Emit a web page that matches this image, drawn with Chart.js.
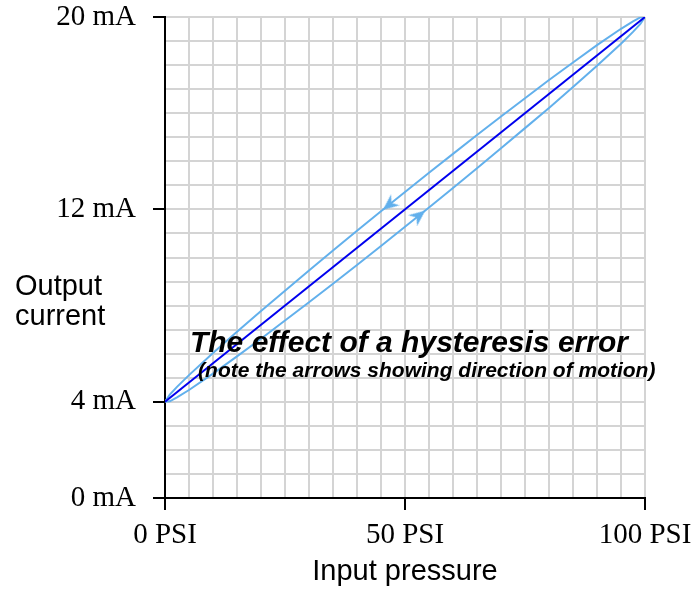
<!DOCTYPE html>
<html>
<head>
<meta charset="utf-8">
<script src="https://cdn.jsdelivr.net/npm/chart.js@4.4.0/dist/chart.umd.min.js"></script>
<style>
  html, body { margin: 0; padding: 0; background: #fff; }
  #wrap { width: 695px; height: 591px; }
</style>
</head>
<body>
<div id="wrap"><canvas id="myChart" width="695" height="591"></canvas></div>
<script>
// input pressure (PSI) and the two branches of the hysteresis loop (mA)
const pressure = [0, 1, 2.5, 5, 10, 15, 20, 25, 30, 35, 40, 45, 50, 55, 60, 65, 70, 75, 80, 85, 90, 95, 97.5, 99, 100];
const currentFalling = [4.00, 4.30, 4.62, 5.11, 6.03, 6.91, 7.78, 8.62, 9.46, 10.29, 11.11, 11.92, 12.72, 13.52, 14.31, 15.09, 15.86, 16.62, 17.38, 18.11, 18.83, 19.51, 19.82, 19.98, 20.00];
const currentRising = [4.00, 4.02, 4.18, 4.49, 5.17, 5.89, 6.62, 7.38, 8.14, 8.91, 9.69, 10.48, 11.28, 12.08, 12.89, 13.71, 14.54, 15.38, 16.22, 17.09, 17.97, 18.89, 19.38, 19.70, 20.00];
// ideal straight response
const idealPressure = [0, 100];
const idealCurrent = [4, 20];
// arrowheads on the loop: falling branch (down-left), rising branch (up-right)
const arrowPressure = [46.7, 52.9];
const arrowCurrent = [12.19, 11.74];
const arrowAngle = [231.3, 51.3];

const xTickLabels = [0, 50, 100];
const yTickLabels = [0, 4, 12, 20];

const lightBlue = "#62b0ec";
const serif = "'Liberation Serif', 'Times New Roman', serif";
const sans = "'Liberation Sans', Arial, sans-serif";

const toPoints = (xs, ys) => xs.map((x, i) => ({ x: x, y: ys[i] }));

// small notched arrowhead, pointing up, used as a point style
const makeArrow = () => {
    const c = document.createElement("canvas");
    c.width = 16;
    c.height = 16;
    const g = c.getContext("2d");
    g.fillStyle = lightBlue;
    g.beginPath();
    g.moveTo(8, 0);
    g.lineTo(15, 16);
    g.lineTo(8, 11);
    g.lineTo(1, 16);
    g.closePath();
    g.fill();
    return c;
};
const arrowImg = makeArrow();

// free text: axis title on the left and the note inside the plot
const textPlugin = {
    id: "notes",
    afterDraw: (chart) => {
        const ctx = chart.ctx;
        const xs = chart.scales.x;
        const ys = chart.scales.y;
        ctx.save();
        ctx.fillStyle = "#000";
        ctx.textAlign = "left";
        ctx.textBaseline = "alphabetic";
        ctx.font = "29px " + sans;
        ctx.fillText("Output", 15, 295);
        ctx.fillText("current", 15, 325);

        ctx.font = "italic bold 30px " + sans;
        ctx.fillText("The effect of a hysteresis error", xs.getPixelForValue(5.2), ys.getPixelForValue(6.05));
        ctx.font = "italic bold 21px " + sans;
        ctx.fillText("(note the arrows showing direction of motion)", xs.getPixelForValue(6.9), ys.getPixelForValue(5.05));
        ctx.restore();
    },
};

const ctx = document.getElementById("myChart").getContext("2d");
const myChart = new Chart(ctx, {
    type: "line",
    data: {
        datasets: [
            {
                data: toPoints(idealPressure, idealCurrent),
                borderColor: "#0000ee",
                borderWidth: 2,
                pointRadius: 0,
            },
            {
                data: toPoints(pressure, currentFalling),
                borderColor: lightBlue,
                borderWidth: 2,
                pointRadius: 0,
            },
            {
                data: toPoints(pressure, currentRising),
                borderColor: lightBlue,
                borderWidth: 2,
                pointRadius: 0,
            },
            {
                data: toPoints(arrowPressure, arrowCurrent),
                showLine: false,
                pointStyle: arrowImg,
                rotation: arrowAngle,
                pointRadius: 8,
            },
        ],
    },
    options: {
        responsive: false,
        animation: false,
        layout: { padding: { top: 17, right: 50, left: 0, bottom: 0 } },
        plugins: { legend: { display: false }, tooltip: { enabled: false } },
        scales: {
            x: {
                type: "linear",
                min: 0,
                max: 100,
                afterFit: (scale) => {
                    scale.height = 93;
                    scale.paddingLeft = 0;
                    scale.paddingRight = 0;
                },
                border: { color: "#000", width: 2 },
                grid: {
                    color: "#d4d4d4",
                    lineWidth: 2,
                    tickLength: 12,
                    tickWidth: 2,
                    tickColor: (c) => xTickLabels.includes(c.tick.value) ? "#000" : "rgba(0,0,0,0)",
                },
                ticks: {
                    stepSize: 5,
                    autoSkip: false,
                    maxRotation: 0,
                    padding: 8,
                    color: "#000",
                    font: { family: serif, size: 29 },
                    callback: (v) => xTickLabels.includes(v) ? v + " PSI" : "",
                },
                title: {
                    display: true,
                    text: "Input pressure",
                    color: "#000",
                    font: { family: sans, size: 29 },
                    padding: { top: 0, bottom: 2 },
                },
            },
            y: {
                type: "linear",
                min: 0,
                max: 20,
                afterFit: (scale) => {
                    scale.width = 165;
                    scale.paddingTop = 0;
                    scale.paddingBottom = 0;
                },
                border: { color: "#000", width: 2 },
                grid: {
                    color: "#d4d4d4",
                    lineWidth: 2,
                    tickLength: 12,
                    tickWidth: 2,
                    tickColor: (c) => yTickLabels.includes(c.tick.value) ? "#000" : "rgba(0,0,0,0)",
                },
                ticks: {
                    stepSize: 1,
                    autoSkip: false,
                    padding: 17,
                    color: "#000",
                    font: { family: serif, size: 29 },
                    callback: (v) => yTickLabels.includes(v) ? v + " mA" : "",
                },
            },
        },
    },
    plugins: [textPlugin],
});
</script>
</body>
</html>
